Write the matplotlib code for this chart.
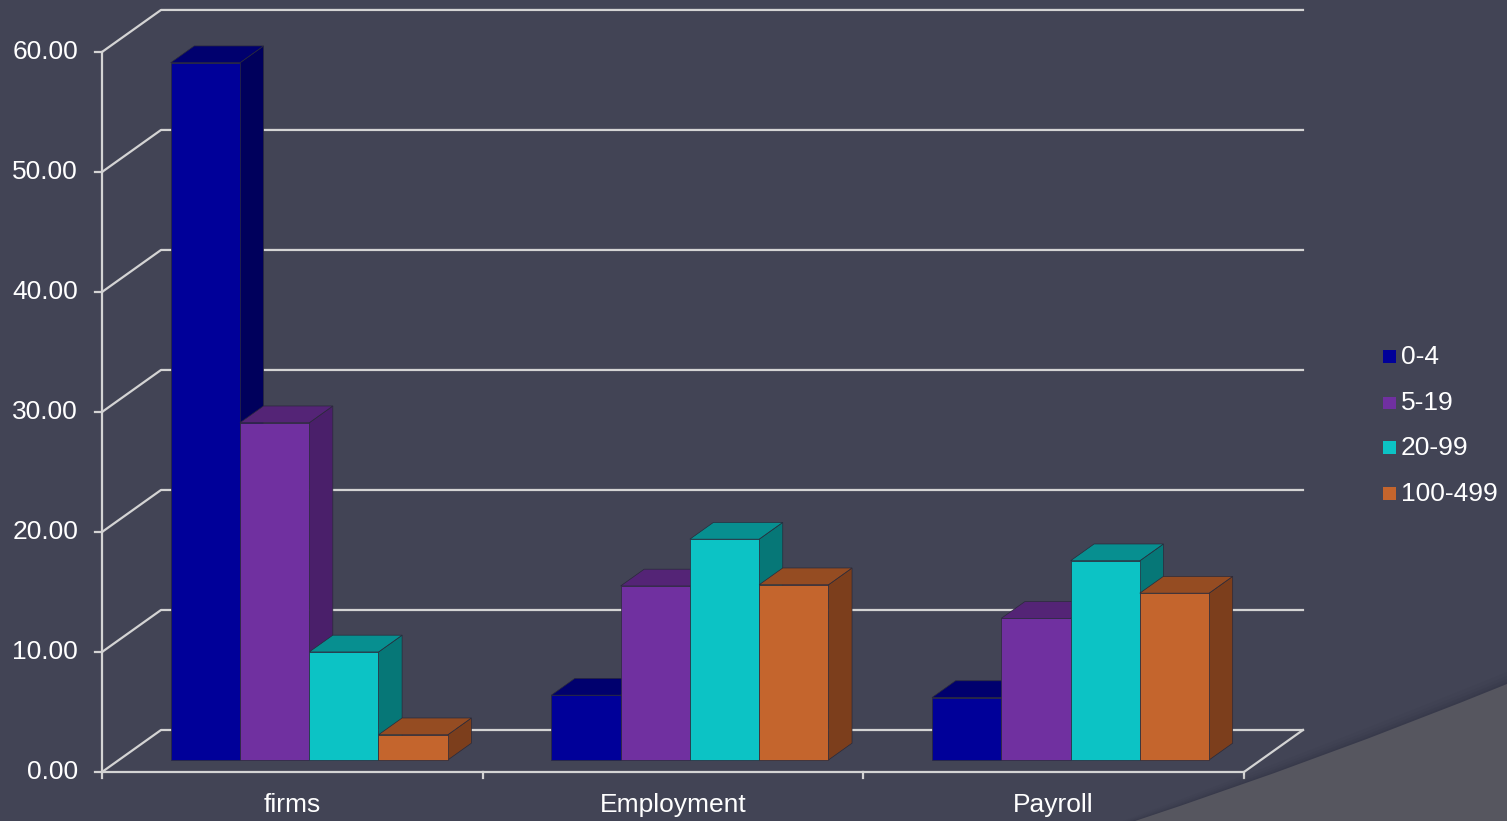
import matplotlib
matplotlib.use('Agg')
import matplotlib.pyplot as plt
from matplotlib.patches import Polygon, PathPatch, Rectangle
from matplotlib.path import Path

# ── data ──────────────────────────────────────────────────────────────────────
categories = ['firms', 'Employment', 'Payroll']
series = ['0-4', '5-19', '20-99', '100-499']
size_0_4 = [58.1, 5.4, 5.2]
size_5_19 = [28.1, 14.5, 11.8]
size_20_99 = [9.0, 18.4, 16.6]
size_100_499 = [2.1, 14.6, 13.9]
yticks = [0, 10, 20, 30, 40, 50, 60]
ytick_labels = ['0.00', '10.00', '20.00', '30.00', '40.00', '50.00', '60.00']

values = [size_0_4, size_5_19, size_20_99, size_100_499]

# ── style ─────────────────────────────────────────────────────────────────────
BG = '#424455'
GRID = '#D4D4D4'
C_FRONT = ['#000099', '#7030A0', '#0CC3C5', '#C4652D']
C_TOP = ['#00006E', '#542476', '#078F90', '#954C22']
C_SIDE = ['#00005C', '#4A1F6A', '#067777', '#7C3E1C']
FS = 19
plt.rcParams['font.family'] = ['Liberation Sans', 'DejaVu Sans']

# oblique projection: depth z in [0, 1]
DX, DY = 0.155, 3.5
Z_F, Z_B = 0.286, 0.686
BAR_W = 0.182


def proj(x, y, z):
    return (x + z * DX, y + z * DY)


fig = plt.figure(figsize=(15.07, 8.21), dpi=100)
fig.patch.set_facecolor(BG)
ax = fig.add_axes([0, 0, 1, 1])
ax.set_facecolor(BG)
ax.set_xlim(-0.268, 3.691)
ax.set_ylim(-4.083, 64.33)
ax.axis('off')

# ── walls / grid ──────────────────────────────────────────────────────────────
n = len(categories)
lw = 1.6
for v, lab in zip(yticks, ytick_labels):
    x0, y0 = proj(0, v, 0)
    x1, y1 = proj(0, v, 1)
    x2, y2 = proj(n, v, 1)
    ax.plot([x0, x1, x2], [y0, y1, y2], color=GRID, lw=lw, zorder=1)
    ax.plot([-0.018, 0], [v, v], color=GRID, lw=lw, zorder=1)
    ax.text(-0.063, v, lab, ha='right', va='center', fontsize=FS, color='white')

ax.plot([0, 0], [0, yticks[-1]], color=GRID, lw=lw, zorder=1)
fx, fy = proj(n, 0, 1)
ax.plot([0, n, fx], [0, 0, fy], color=GRID, lw=lw, zorder=1)
for i in range(n + 1):
    ax.plot([i, i], [0, -0.5], color=GRID, lw=lw, zorder=1)
for i, cat in enumerate(categories):
    ax.text(i + 0.5, -2.75, cat, ha='center', va='center', fontsize=FS, color='white')

# ── bars ──────────────────────────────────────────────────────────────────────
gap = (1 - BAR_W * len(series)) / 2
for c in range(n):
    for s in range(len(series)):
        h = values[s][c]
        xa = c + gap + s * BAR_W
        xb = xa + BAR_W
        side = [proj(xb, 0, Z_F), proj(xb, 0, Z_B), proj(xb, h, Z_B), proj(xb, h, Z_F)]
        top = [proj(xa, h, Z_F), proj(xb, h, Z_F), proj(xb, h, Z_B), proj(xa, h, Z_B)]
        front = [proj(xa, 0, Z_F), proj(xb, 0, Z_F), proj(xb, h, Z_F), proj(xa, h, Z_F)]
        for pts, col in [(side, C_SIDE[s]), (top, C_TOP[s]), (front, C_FRONT[s])]:
            ax.add_patch(Polygon(pts, closed=True, facecolor=col,
                                 edgecolor='#2a2a3a', lw=0.5, zorder=3))

# ── legend ────────────────────────────────────────────────────────────────────
leg_y = [357, 403, 448, 494]
for s, name in enumerate(series):
    yf = 1 - leg_y[s] / 821
    ax.add_patch(Rectangle((1383 / 1507, yf - 6.5 / 821), 13 / 1507, 13 / 821,
                           transform=ax.transAxes, facecolor=C_FRONT[s],
                           edgecolor='none', zorder=4))
    ax.text(1401 / 1507, yf, name, transform=ax.transAxes, ha='left', va='center',
            fontsize=FS, color='white')

# ── decorative corner ─────────────────────────────────────────────────────────
W, H = 1507, 821


def fp(x, y):
    return (x / W, 1 - y / H)


codes = [Path.MOVETO, Path.CURVE3, Path.CURVE3, Path.LINETO, Path.CLOSEPOLY]
for k, a in [(12, 0.06), (8, 0.08), (5, 0.10), (2, 0.14)]:
    verts = [fp(1135 - k, 821), fp(1320, 760 - k), fp(1507, 684 - k), fp(1507, 821), fp(1135 - k, 821)]
    fig.patches.append(PathPatch(Path(verts, codes), transform=fig.transFigure,
                                 facecolor='#2a2c3a', alpha=a, edgecolor='none', zorder=5))
verts = [fp(1135, 821), fp(1320, 760), fp(1507, 684), fp(1507, 821), fp(1135, 821)]
fig.patches.append(PathPatch(Path(verts, codes), transform=fig.transFigure,
                             facecolor='#56565F', edgecolor='none', zorder=6))

fig.savefig('out.png', dpi=100, facecolor=BG)
